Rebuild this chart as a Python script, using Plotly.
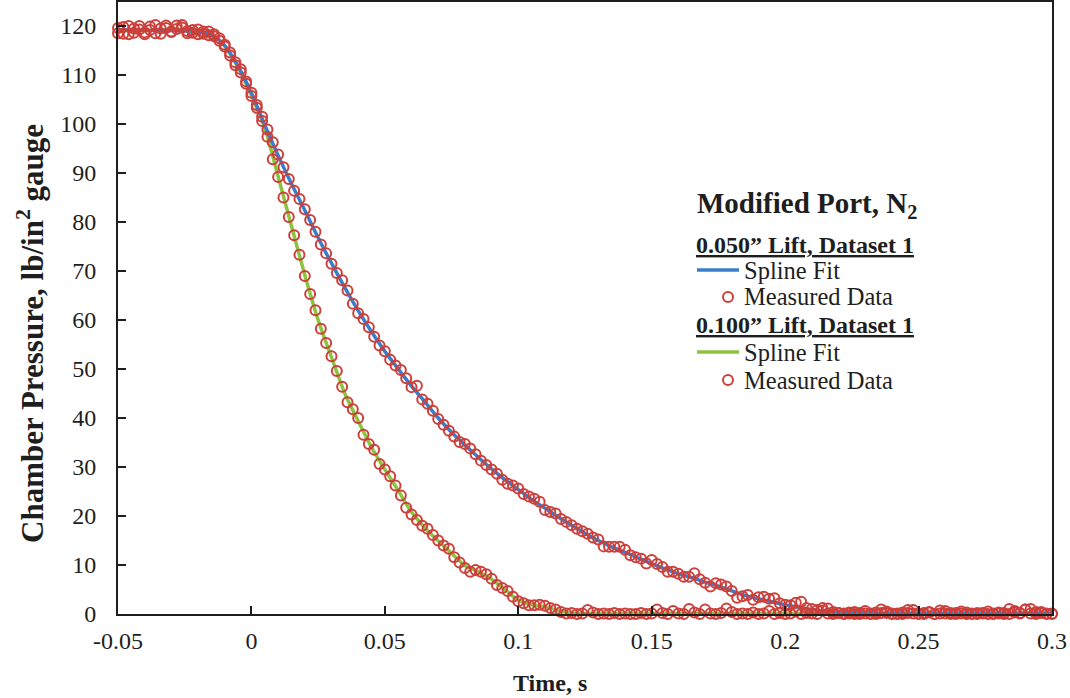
import numpy as np
import plotly.graph_objects as go

# ---------------- data ----------------
# measured data sampled every 2 ms from -0.05 s to 0.30 s
t_start = -0.05
t_step = 0.002
meas_lift050 = [
    119.6, 118.4, 120.0, 118.6, 119.3, 118.3, 119.9, 118.5, 119.5, 120.1,
    118.8, 119.4, 120.2, 119.0, 118.6, 119.3, 118.4, 118.9, 117.9, 117.0,
    116.2, 114.6, 112.6, 111.2, 108.7, 106.4, 103.9, 101.5, 98.9, 96.3,
    93.8, 91.2, 88.8, 86.4, 84.7, 82.6, 80.4, 78.0, 75.4, 73.6,
    71.5, 69.6, 68.1, 66.0, 63.3, 61.4, 60.2, 58.5, 56.6, 54.8,
    53.6, 51.9, 50.7, 49.8, 48.1, 46.3, 46.6, 43.8, 42.9, 41.5,
    39.8, 38.6, 37.4, 36.2, 35.1, 34.7, 33.8, 32.6, 31.3, 30.4,
    29.5, 28.6, 27.4, 26.6, 26.2, 25.6, 24.5, 24.0, 23.5, 22.9,
    21.2, 20.8, 20.5, 19.4, 18.8, 18.1, 17.4, 16.9, 16.4, 15.6,
    15.2, 13.8, 13.7, 13.7, 13.7, 13.1, 12.0, 11.6, 11.3, 10.3,
    11.0, 10.2, 9.6, 8.6, 8.6, 8.2, 7.6, 7.6, 8.3, 7.1,
    6.4, 5.6, 6.3, 6.0, 5.6, 4.7, 3.3, 3.6, 3.9, 2.9,
    3.4, 3.5, 3.1, 3.2, 2.2, 1.9, 1.8, 2.3, 2.5, 1.2,
    1.0, 0.8, 1.2, 1.1, 0.4, 0.2,
    0.1, 0.3, 0.0, 0.2, 0.6, 0.1, 0.0, 0.2, 0.5, 0.1,
    0.0, 0.3, 0.8, 0.1, 0.0, 0.2, 0.4, 0.0, 0.1, 0.6,
    0.2, 0.0, 0.1, 0.3, 0.0, 0.2, 0.1, 0.5, 0.0, 0.1,
    0.2, 0.0, 0.3, 0.1, 0.9, 1.0, 0.4, 0.2, 0.0, 0.1,
]
meas_lift100 = [
    118.5, 119.8, 118.3, 119.5, 120.0, 118.7, 119.2, 120.2, 118.4, 119.6,
    118.9, 120.1, 119.7, 118.5, 119.2, 118.3, 118.9, 118.1, 118.3, 117.5,
    115.8, 114.0, 112.0, 110.5, 108.2, 105.7, 103.3, 100.6, 97.4, 92.8,
    89.2, 85.0, 81.0, 77.3, 73.3, 69.0, 65.3, 62.0, 58.2, 55.3,
    52.6, 49.6, 46.4, 43.2, 41.8, 40.0, 36.6, 34.7, 33.5, 30.6,
    29.5, 28.1, 26.2, 24.2, 21.7, 20.3, 19.2, 18.0, 17.4, 16.1,
    15.0, 14.0, 13.3, 11.6, 10.5, 9.4, 8.6, 9.0, 8.6, 8.1,
    7.2, 5.9, 5.3, 4.7, 3.5, 2.6, 2.2, 1.8, 1.8, 1.9,
    1.7, 1.2, 0.9, 0.4, 0.1,
    0.2, 0.0, 0.1, 0.8, 0.3, 0.0, 0.1, 0.0, 0.2, 0.0,
    0.1, 0.0, 0.0, 0.2, 0.0, 0.1, 0.9, 0.2, 0.0, 0.6,
    0.1, 0.0, 1.0, 0.3, 0.0, 0.9, 0.1, 0.0, 0.2, 1.1,
    0.4, 0.0, 0.1, 0.0, 0.3, 0.0, 0.1, 0.6, 0.0, 0.2,
    0.0, 0.1, 0.5, 0.0, 0.2, 0.1, 0.0, 0.7, 0.1, 0.0,
    0.2, 0.0, 0.1, 0.4, 0.0, 0.1, 0.0, 0.3, 0.9, 0.2,
    0.0, 0.1, 0.0, 0.2, 0.8, 0.1, 0.0, 0.3, 0.0, 0.7,
    0.1, 0.0, 0.2, 0.5, 0.0, 0.1, 0.0, 0.2, 0.0, 0.1,
    0.3, 0.0, 1.0, 0.6, 0.2, 0.9, 0.1, 0.0, 0.4, 0.1,
    0.0,
]

# spline fits sampled every 5 ms from -0.05 s to 0.30 s
fit_step = 0.005
fit_lift050 = [
    119.2, 119.2, 119.1, 119.1, 119.1, 119.0, 118.9, 118.2, 116.0, 111.8,
    106.3, 99.8, 93.6, 87.8, 82.4, 76.8, 71.6, 66.6, 61.9, 57.6,
    53.6, 50.0, 46.5, 43.3, 40.0, 37.1, 34.5, 32.0, 29.6, 27.4,
    25.4, 23.4, 21.6, 19.8, 18.1, 16.5, 15.0, 13.7, 12.6, 11.4,
    10.3, 9.2, 8.2, 7.4, 6.5, 5.7, 4.7, 3.8, 3.1, 2.5,
    1.9, 1.4, 0.9, 0.6, 0.4, 0.3, 0.3, 0.2, 0.2, 0.2,
    0.2, 0.2, 0.2, 0.2, 0.2, 0.2, 0.2, 0.2, 0.2, 0.2,
    0.2,
]
fit_lift100 = [
    119.1, 119.1, 119.1, 119.2, 119.2, 119.1, 118.9, 118.1, 115.9, 111.5,
    105.8, 99.2, 89.3, 79.2, 69.2, 60.0, 52.4, 45.0, 39.4, 34.0,
    29.5, 25.2, 20.8, 17.6, 14.9, 12.4, 9.9, 8.6, 7.1, 5.0,
    2.8, 1.9, 1.5, 0.7, 0.2, 0.1, 0.1, 0.1, 0.1, 0.1,
    0.1, 0.1, 0.1, 0.1, 0.1, 0.1, 0.1, 0.1, 0.1, 0.1,
    0.1, 0.1, 0.1, 0.1, 0.1, 0.1, 0.1, 0.1, 0.1, 0.1,
    0.1, 0.1, 0.1, 0.1, 0.1, 0.1, 0.1, 0.1, 0.1, 0.1,
    0.1,
]

x_tickvals = [-0.05, 0, 0.05, 0.1, 0.15, 0.2, 0.25, 0.3]
x_ticktext = ["-0.05", "0", "0.05", "0.1", "0.15", "0.2", "0.25", "0.3"]
y_tickvals = [0, 10, 20, 30, 40, 50, 60, 70, 80, 90, 100, 110, 120]

legend_title = "<b>Modified Port, N<sub>2</sub></b>"
group_titles = ["0.050” Lift, Dataset 1", "0.100” Lift, Dataset 1"]
entry_names = ["Spline Fit", "Measured Data"]

t_meas = np.round(t_start + t_step * np.arange(len(meas_lift050)), 4)
t_fit = np.round(t_start + fit_step * np.arange(len(fit_lift050)), 4)

# ---------------- style ----------------
FONT = "Liberation Serif"
INK = "#1e1e1e"
BLUE = "#3A7DC9"
GREEN = "#8CC43F"
RED = "#CC3F3A"

# plot area in pixels (left, right, top, bottom)
PL, PR, PT, PB = 118, 1052, 2, 614


def px(xp):
    return (xp - PL) / (PR - PL)


def py(yp):
    return (PB - yp) / (PB - PT)


fig = go.Figure()

fig.add_trace(go.Scatter(
    x=t_fit, y=fit_lift100, mode="lines", name=entry_names[0],
    line=dict(color=GREEN, width=3.5, shape="spline", smoothing=0.8), showlegend=False,
))
fig.add_trace(go.Scatter(
    x=t_fit, y=fit_lift050, mode="lines", name=entry_names[0],
    line=dict(color=BLUE, width=3.5, shape="spline", smoothing=0.8), showlegend=False,
))
fig.add_trace(go.Scatter(
    x=t_meas, y=meas_lift100, mode="markers", name=entry_names[1], cliponaxis=False,
    marker=dict(symbol="circle-open", size=10, color=RED, line=dict(width=2, color=RED)), showlegend=False,
))
fig.add_trace(go.Scatter(
    x=t_meas, y=meas_lift050, mode="markers", name=entry_names[1], cliponaxis=False,
    marker=dict(symbol="circle-open", size=10, color=RED, line=dict(width=2, color=RED)), showlegend=False,
))

axis_common = dict(
    showline=True, linecolor=INK, linewidth=1.8, mirror=True,
    ticks="inside", ticklen=8, tickwidth=1.5, tickcolor=INK,
    showgrid=False, zeroline=False,
    tickfont=dict(family=FONT, size=24, color=INK),
)

fig.update_xaxes(range=[-0.05, 0.3], tickmode="array", tickvals=x_tickvals, ticktext=x_ticktext,
                 ticklabelstandoff=4, **axis_common)
fig.update_yaxes(range=[0, 124.9], tickmode="array", tickvals=y_tickvals,
                 ticklabelstandoff=15, **axis_common)

# ---------------- custom legend ----------------
annotations = [
    dict(text="<b>Time, s</b>", xref="paper", yref="paper", x=px(550), y=py(683),
         xanchor="center", yanchor="middle", showarrow=False,
         font=dict(family=FONT, size=24, color=INK)),
    dict(text="<b>Chamber Pressure, lb/in<sup>2</sup> gauge</b>", xref="paper", yref="paper",
         x=px(30), y=py(334), xanchor="center", yanchor="middle", textangle=-90, showarrow=False,
         font=dict(family=FONT, size=31, color=INK)),
    dict(text=legend_title, xref="paper", yref="paper", x=px(695), y=py(205),
         xanchor="left", yanchor="middle", showarrow=False,
         font=dict(family=FONT, size=29, color=INK)),
]
shapes = []
legend_rows = [
    (group_titles[0], 245, BLUE, 270, 297),
    (group_titles[1], 325, GREEN, 352, 380),
]
for title, ty, col, ly, my in legend_rows:
    annotations.append(dict(text="<b><u>" + title + "</u></b>", xref="paper", yref="paper",
                            x=px(695), y=py(ty), xanchor="left", yanchor="middle", showarrow=False,
                            borderpad=0, font=dict(family=FONT, size=24, color=INK)))
    annotations.append(dict(text=entry_names[0], xref="paper", yref="paper",
                            x=px(743), y=py(ly), xanchor="left", yanchor="middle", showarrow=False,
                            borderpad=0, font=dict(family=FONT, size=24.5, color=INK)))
    annotations.append(dict(text=entry_names[1], xref="paper", yref="paper",
                            x=px(743), y=py(my), xanchor="left", yanchor="middle", showarrow=False,
                            borderpad=0, font=dict(family=FONT, size=24.5, color=INK)))
    shapes.append(dict(type="line", xref="paper", yref="paper", x0=px(697), x1=px(739),
                       y0=py(ly), y1=py(ly), line=dict(color=col, width=3.5)))
    shapes.append(dict(type="circle", xref="paper", yref="paper", xsizemode="pixel", ysizemode="pixel",
                       xanchor=px(728), yanchor=py(my), x0=-5, x1=5, y0=-5, y1=5,
                       line=dict(color=RED, width=2)))

fig.update_layout(
    width=1070, height=698,
    margin=dict(l=PL, r=1070 - PR, t=PT, b=698 - PB, autoexpand=False),
    plot_bgcolor="white", paper_bgcolor="white",
    showlegend=False,
    annotations=annotations,
    shapes=shapes,
)

fig.write_html("out.html", config={"displayModeBar": False},
               post_script="document.body.style.margin='0';")
